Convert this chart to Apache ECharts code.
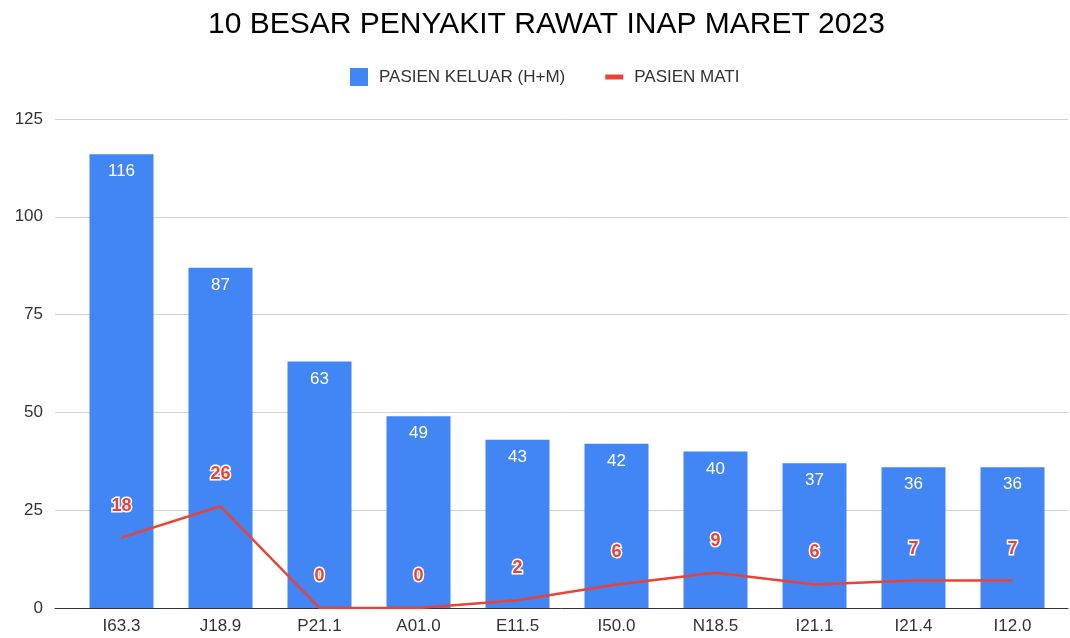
<!DOCTYPE html>
<html>
<head>
<meta charset="utf-8">
<script src="https://cdn.jsdelivr.net/npm/echarts@6/dist/echarts.min.js"></script>
<style>
  html, body { margin: 0; padding: 0; background: #fff; }
  #chart { width: 1070px; height: 638px; }
</style>
</head>
<body>
<div id="chart"></div>
<script>
// kode penyakit
const categories = ['I63.3', 'J18.9', 'P21.1', 'A01.0', 'E11.5', 'I50.0', 'N18.5', 'I21.1', 'I21.4', 'I12.0'];
// pasien keluar (hidup + mati)
const pasienKeluar = [116, 87, 63, 49, 43, 42, 40, 37, 36, 36];
// pasien mati
const pasienMati = [18, 26, 0, 0, 2, 6, 9, 6, 7, 7];

const fontFamily = '"Liberation Sans", Arial, sans-serif';

let myChart = echarts.init(document.getElementById('chart'));

let option = {
    animation: false,
    textStyle: { fontFamily: fontFamily },
    title: {
        text: '10 BESAR PENYAKIT RAWAT INAP MARET 2023',
        left: 203,
        top: 5,
        textStyle: { fontSize: 30, fontWeight: 'normal', color: '#000', fontFamily: fontFamily }
    },
    legend: {
        top: 63,
        left: 345,
        itemGap: 40,
        itemWidth: 18,
        itemHeight: 18,
        textStyle: { fontSize: 17, color: '#333', fontFamily: fontFamily, padding: [0, 0, 0, 6] },
        data: [
            { name: 'PASIEN KELUAR (H+M)', icon: 'rect' },
            { name: 'PASIEN MATI', icon: 'path://M0,0 L18,0 L18,5 L0,5 Z' }
        ]
    },
    grid: [
        // gridlines only, wider than the bars area
        { left: 55, right: 2, top: 119, bottom: 30 },
        // data area
        { left: 72, right: 8, top: 119, bottom: 30 }
    ],
    xAxis: [
        {
            gridIndex: 0,
            type: 'value',
            min: 0,
            max: 1,
            axisLabel: { show: false },
            axisTick: { show: false },
            splitLine: { show: false },
            axisLine: { show: true, lineStyle: { color: '#333', width: 1 } }
        },
        {
            gridIndex: 1,
            type: 'category',
            data: categories,
            axisTick: { show: false },
            axisLine: { show: false },
            axisLabel: { color: '#333', fontSize: 17, margin: 10 }
        }
    ],
    yAxis: [
        {
            gridIndex: 0,
            type: 'value',
            min: 0,
            max: 125,
            interval: 25,
            axisLine: { show: false },
            axisTick: { show: false },
            axisLabel: { color: '#333', fontSize: 17, margin: 12 },
            splitLine: { lineStyle: { color: '#d0d0d0' } }
        },
        {
            gridIndex: 1,
            type: 'value',
            min: 0,
            max: 125,
            interval: 25,
            axisLine: { show: false },
            axisTick: { show: false },
            axisLabel: { show: false },
            splitLine: { show: false }
        }
    ],
    series: [
        {
            name: 'PASIEN KELUAR (H+M)',
            type: 'bar',
            xAxisIndex: 1,
            yAxisIndex: 1,
            data: pasienKeluar,
            barWidth: 64,
            itemStyle: { color: '#4285f4' },
            label: {
                show: true,
                position: 'insideTop',
                distance: 9,
                color: '#fff',
                fontSize: 17
            }
        },
        {
            name: 'PASIEN MATI',
            type: 'line',
            xAxisIndex: 1,
            yAxisIndex: 1,
            data: pasienMati,
            symbol: 'circle',
            symbolSize: 0,
            showSymbol: true,
            lineStyle: { color: '#ea4335', width: 2.5 },
            itemStyle: { color: '#ea4335' },
            label: {
                show: true,
                position: 'top',
                distance: 23,
                color: '#ea4335',
                fontSize: 18,
                fontWeight: 'bold',
                textBorderColor: '#fff',
                textBorderWidth: 3
            }
        }
    ]
};

myChart.setOption(option);
</script>
</body>
</html>
